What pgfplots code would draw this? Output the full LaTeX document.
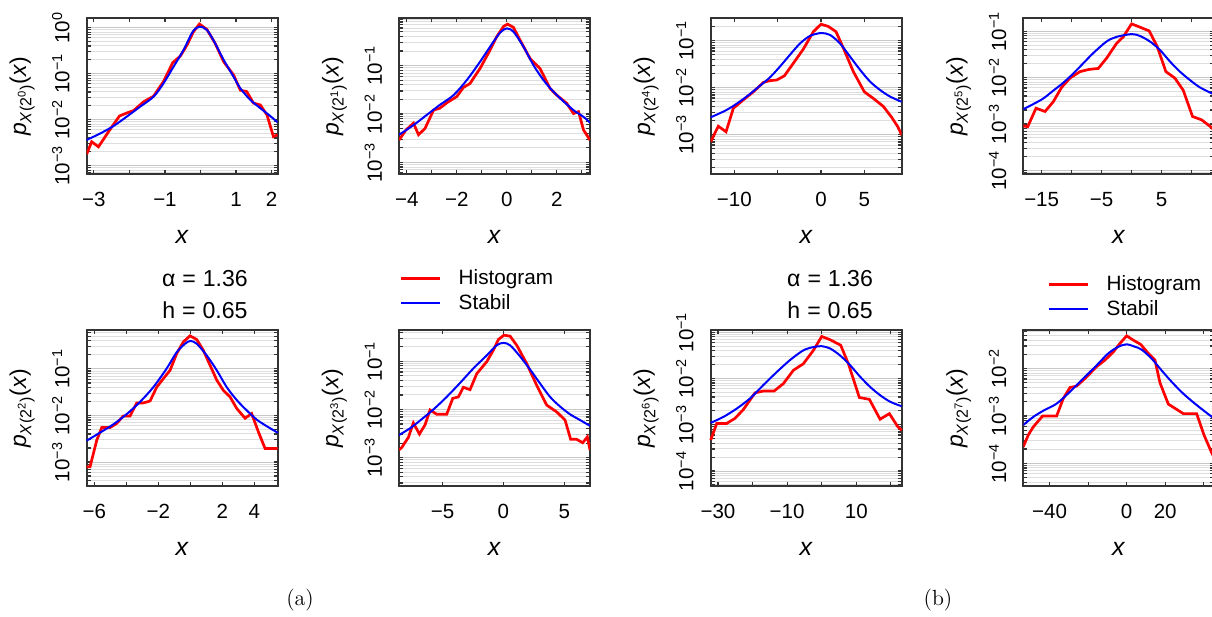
\documentclass[border=0pt]{standalone}
\usepackage{fontspec}
\newfontfamily\lsans{Liberation Sans}
\usepackage{pgfplots}
\pgfplotsset{compat=1.18}
\newcommand{\yl}[1]{\textit{p}\textsubscript{\textit{X}(2\textsuperscript{#1})}(\textit{x})}
\newcommand{\tp}[1]{10\textsuperscript{#1}}
\pgfplotsset{
   scale only axis, width=95.5bp, height=78bp,
   axis line style={draw=black!80, line width=0.85bp},
   tick style={draw=black!80, line width=0.6bp},
   major tick length=2bp, minor tick length=2bp,
   tick align=inside,
   ymajorgrids, yminorgrids,
   major grid style={draw=black!22, line width=0.5bp},
   minor grid style={draw=black!13, line width=0.5bp},
   minor ytick={2e-5,3e-5,4e-5,5e-5,6e-5,7e-5,8e-5,9e-5,2e-4,3e-4,4e-4,5e-4,6e-4,7e-4,8e-4,9e-4,2e-3,3e-3,4e-3,5e-3,6e-3,7e-3,8e-3,9e-3,2e-2,3e-2,4e-2,5e-2,6e-2,7e-2,8e-2,9e-2,0.2,0.3,0.4,0.5,0.6,0.7,0.8,0.9,2,3,4,5,6,7,8,9},
   ticklabel style={font=\lsans\fontsize{10.3}{12}\selectfont},
   xticklabel shift=5.4bp,
   yticklabel style={rotate=90, anchor=south},
   yticklabel shift=5bp,
   every axis x label/.style={at={(axis description cs:0.5,0)}, yshift=-31.2bp, anchor=center, font=\lsans\fontsize{12.5}{14}\selectfont},
   every axis y label/.style={at={(axis description cs:0,0.5)}, xshift=-22.5bp, rotate=90, anchor=south, font=\lsans\fontsize{11.5}{13}\selectfont},
   legend style={draw=none, fill=none, inner sep=0pt, outer sep=0pt, font=\lsans\fontsize{10.4}{12}\selectfont, row sep=1.5bp, column sep=7.5bp, nodes={inner sep=1bp}},
   legend cell align=left,
   myhist/.style={color=red, line width=1.35bp},
   mystab/.style={color=blue, line width=1bp, smooth},
}
\newcommand{\annfont}{\lsans\fontsize{11.6}{13}\selectfont}
\begin{document}
\begin{tikzpicture}
% ---------- P1 ----------
\begin{axis}[ymode=log, at={(43.35bp,-87.15bp)}, anchor=south west,
  xmin=-3.2, xmax=2.17, ymin=6.49e-4, ymax=1.596,
  xtick={-3,-1,1,2}, xticklabels={−3,−1,1,2}, minor xtick={-2,0},
  ytick={1e-3,1e-2,1e-1,1}, yticklabels={\tp{−3},\tp{−2},\tp{−1},\tp{0}},
  xlabel={\textit{x}}, ylabel={\yl{0}}]
\addplot[myhist] coordinates {(-3.20,0.00178)(-3.06,0.00331)(-2.87,0.00257)(-2.54,0.00617)(-2.28,0.0120)(-2.09,0.0138)(-1.88,0.0158)(-1.60,0.0245)(-1.32,0.0324)(-1.04,0.0676)(-0.78,0.174)(-0.57,0.240)(-0.38,0.417)(-0.20,0.813)(-0.03,1.20)(0.18,0.912)(0.41,0.457)(0.65,0.182)(0.93,0.0933)(1.12,0.0437)(1.30,0.0407)(1.49,0.0229)(1.68,0.0209)(1.87,0.0126)(2.05,0.00427)(2.17,0.00468)};
\addplot[mystab] coordinates {(-3.20,0.00363)(-2.82,0.00501)(-2.45,0.00724)(-2.07,0.0117)(-1.70,0.0191)(-1.32,0.0316)(-1.04,0.0617)(-0.76,0.141)(-0.48,0.324)(-0.22,0.813)(-0.03,1.05)(0.18,0.891)(0.41,0.457)(0.65,0.200)(0.93,0.0851)(1.12,0.0479)(1.40,0.0269)(1.68,0.0178)(1.96,0.0120)(2.17,0.00871)};
\end{axis}
% ---------- P2 ----------
\begin{axis}[ymode=log, at={(199.5bp,-87.15bp)}, anchor=south west,
  xmin=-4.31, xmax=3.33, ymin=5.65e-4, ymax=0.953,
  xtick={-4,-2,0,2}, xticklabels={−4,−2,0,2}, minor xtick={-3,-1,1,3},
  ytick={1e-3,1e-2,1e-1,1}, yticklabels={\tp{−3},\tp{−2},\tp{−1},\tp{0}},
  xlabel={\textit{x}}, ylabel={\yl{1}}]
\addplot[myhist] coordinates {(-4.31,0.00288)(-4.03,0.00468)(-3.73,0.00646)(-3.53,0.00372)(-3.27,0.00501)(-2.93,0.0120)(-2.67,0.0132)(-2.40,0.0170)(-2.00,0.0229)(-1.73,0.0355)(-1.47,0.0427)(-1.07,0.0871)(-0.67,0.209)(-0.40,0.398)(-0.13,0.646)(0.03,0.724)(0.27,0.617)(0.53,0.339)(0.93,0.141)(1.33,0.0871)(1.73,0.0339)(2.00,0.0245)(2.40,0.0166)(2.67,0.0102)(2.87,0.0112)(3.07,0.00468)(3.33,0.00288)};
\addplot[mystab] coordinates {(-4.31,0.00372)(-3.73,0.00589)(-3.20,0.00955)(-2.67,0.0155)(-2.13,0.0245)(-1.60,0.0501)(-1.07,0.120)(-0.67,0.245)(-0.27,0.479)(0,0.589)(0.27,0.501)(0.67,0.245)(1.07,0.102)(1.47,0.0501)(1.87,0.0288)(2.27,0.0182)(2.67,0.0120)(3.07,0.00871)(3.33,0.00661)};
\end{axis}
% ---------- P3 ----------
\begin{axis}[ymode=log, at={(355.35bp,-87.15bp)}, anchor=south west,
  xmin=-12.73, xmax=9.31, ymin=1.432e-4, ymax=0.2985,
  xtick={-10,0,5}, xticklabels={−10,0,5}, minor xtick={-5},
  ytick={1e-3,1e-2,1e-1}, yticklabels={\tp{−3},\tp{−2},\tp{−1}},
  xlabel={\textit{x}}, ylabel={\yl{4}}]
\addplot[myhist] coordinates {(-12.73,0.000708)(-11.85,0.00151)(-10.96,0.00115)(-10.12,0.00363)(-8.96,0.00550)(-7.81,0.00813)(-6.65,0.0129)(-5.88,0.0141)(-5.12,0.0145)(-4.23,0.0178)(-3.19,0.0331)(-2.04,0.0661)(-0.88,0.155)(0,0.224)(0.85,0.200)(1.73,0.155)(2.58,0.0692)(3.73,0.0219)(5.0,0.00813)(6.04,0.00589)(7.19,0.00398)(8.15,0.00234)(8.85,0.00148)(9.31,0.000977)};
\addplot[mystab] coordinates {(-12.73,0.00234)(-11.27,0.00309)(-10.12,0.00407)(-8.58,0.00646)(-7.04,0.0110)(-5.88,0.0166)(-4.73,0.0282)(-3.58,0.0501)(-2.42,0.0871)(-1.27,0.126)(0,0.145)(1.04,0.132)(2.19,0.0871)(3.35,0.0457)(4.5,0.0240)(5.65,0.0135)(6.81,0.00891)(7.96,0.00646)(9.31,0.00501)};
\end{axis}
% ---------- P4 ----------
\begin{axis}[ymode=log, at={(511.65bp,-87.15bp)}, anchor=south west,
  xmin=-18.06, xmax=13.8, ymin=8.2e-5, ymax=0.191,
  xtick={-15,-5,5}, xticklabels={−15,−5,5}, minor xtick={-10,0,10},
  ytick={1e-4,1e-3,1e-2,1e-1}, yticklabels={\tp{−4},\tp{−3},\tp{−2},\tp{−1}},
  xlabel={\textit{x}}, ylabel={\yl{5}}]
\addplot[myhist] coordinates {(-18.06,0.000912)(-17.33,0.000871)(-15.94,0.00219)(-14.44,0.00186)(-13.06,0.00302)(-11.67,0.00617)(-10.28,0.00977)(-8.61,0.0135)(-7.06,0.0151)(-5.56,0.0158)(-4.17,0.0263)(-2.5,0.0550)(-1.39,0.0759)(0,0.145)(1.39,0.123)(2.94,0.102)(4.28,0.0468)(5.72,0.0135)(7.22,0.00977)(8.61,0.00537)(10.17,0.00145)(11.67,0.00123)(13.39,0.000832)(13.8,0.0007)};
\addplot[mystab] coordinates {(-18.06,0.00209)(-16.39,0.00269)(-14.72,0.00355)(-13.06,0.00525)(-11.39,0.00776)(-9.72,0.0123)(-8.06,0.0204)(-6.39,0.0339)(-4.17,0.0603)(-2.5,0.0759)(0,0.0871)(1.39,0.0794)(3.06,0.0603)(4.72,0.0398)(6.39,0.0224)(8.06,0.0135)(9.72,0.00891)(11.39,0.00617)(13.39,0.00457)(13.8,0.0043)};
\end{axis}
% ---------- P5 ----------
\begin{axis}[ymode=log, at={(43.35bp,-243.15bp)}, anchor=south west, clip=false,
  xmin=-6.48, xmax=5.46, ymin=3.01e-4, ymax=0.674,
  xtick={-6,-2,2,4}, xticklabels={−6,−2,2,4}, minor xtick={-4,0},
  ytick={1e-3,1e-2,1e-1}, yticklabels={\tp{−3},\tp{−2},\tp{−1}},
  xlabel={\textit{x}}, ylabel={\yl{2}}]
\addplot[myhist] coordinates {(-6.48,0.000794)(-6.27,0.000794)(-5.85,0.00295)(-5.54,0.00550)(-5.02,0.00550)(-4.60,0.00676)(-4.19,0.00977)(-3.77,0.00977)(-3.35,0.0186)(-2.94,0.0186)(-2.52,0.0204)(-2.10,0.0407)(-1.69,0.0617)(-1.27,0.0933)(-0.85,0.214)(-0.44,0.380)(-0.02,0.513)(0.40,0.427)(0.81,0.251)(1.23,0.120)(1.65,0.0575)(2.06,0.0347)(2.48,0.0251)(2.90,0.0141)(3.42,0.00871)(3.83,0.0110)(4.25,0.00447)(4.67,0.00195)(5.46,0.00195)};
\addplot[mystab] coordinates {(-6.48,0.00288)(-5.65,0.00427)(-4.81,0.00646)(-3.98,0.0107)(-3.15,0.0195)(-2.31,0.0407)(-1.48,0.102)(-0.85,0.229)(-0.33,0.347)(0,0.398)(0.40,0.347)(1.02,0.195)(1.65,0.0933)(2.27,0.0407)(2.90,0.0214)(3.52,0.0129)(4.15,0.00813)(4.77,0.00589)(5.46,0.00427)};
\node[font=\annfont] at (axis description cs:0.619,1.335) {α\hspace{0.3em}=\hspace{0.3em}1.36};
\node[font=\annfont] at (axis description cs:0.619,1.13) {h\hspace{0.3em}=\hspace{0.3em}0.65};
\node[font=\rmfamily\fontsize{11}{13}\selectfont] at (axis description cs:1.117,-0.729) {(a)};
\end{axis}
% ---------- P6 ----------
\begin{axis}[ymode=log, at={(199.5bp,-243.15bp)}, anchor=south west,
  xmin=-8.58, xmax=7.12, ymin=2.55e-4, ymax=0.4375,
  xtick={-5,0,5}, xticklabels={−5,0,5},
  ytick={1e-3,1e-2,1e-1}, yticklabels={\tp{−3},\tp{−2},\tp{−1}},
  xlabel={\textit{x}}, ylabel={\yl{3}},
  legend image code/.code={\draw[#1] (0bp,0bp) -- (19.5bp,0bp);},
  legend style={at={(axis description cs:0,1)}, anchor=south west, xshift=0.5bp, yshift=8bp}]
\addplot[myhist] coordinates {(-8.58,0.00145)(-8.36,0.00162)(-7.81,0.00263)(-7.40,0.00525)(-6.90,0.00309)(-6.44,0.00479)(-6.03,0.00977)(-5.48,0.00794)(-4.66,0.00794)(-4.16,0.0170)(-3.70,0.0182)(-3.29,0.0288)(-2.74,0.0257)(-2.19,0.0550)(-1.37,0.0977)(-0.82,0.170)(-0.41,0.282)(0.05,0.347)(0.55,0.331)(1.10,0.214)(1.92,0.0891)(2.74,0.0316)(3.56,0.0123)(4.38,0.00891)(5.07,0.00603)(5.53,0.00240)(6.03,0.00240)(6.52,0.00204)(6.90,0.00269)(7.12,0.00145)};
\addplot[mystab] coordinates {(-8.58,0.00295)(-7.67,0.00407)(-6.85,0.00589)(-5.75,0.0100)(-4.66,0.0182)(-3.56,0.0355)(-2.47,0.0708)(-1.37,0.132)(-0.55,0.214)(0,0.240)(0.55,0.214)(1.37,0.126)(2.19,0.0676)(3.01,0.0347)(3.84,0.0182)(4.66,0.0115)(5.48,0.00794)(6.30,0.00603)(7.12,0.00457)};
\legend{Histogram,Stabil}
\end{axis}
% ---------- P7 ----------
\begin{axis}[ymode=log, at={(355.35bp,-243.15bp)}, anchor=south west, clip=false,
  xmin=-32.1, xmax=23.13, ymin=4.67e-5, ymax=0.1104,
  xtick={-30,-10,10}, xticklabels={−30,−10,10}, minor xtick={-20,0,20},
  ytick={1e-4,1e-3,1e-2,1e-1}, yticklabels={\tp{−4},\tp{−3},\tp{−2},\tp{−1}},
  xlabel={\textit{x}}, ylabel={\yl{6}}]
\addplot[myhist] coordinates {(-32.10,0.000468)(-30.36,0.00107)(-27.47,0.00107)(-25.06,0.00138)(-22.65,0.00214)(-19.28,0.00490)(-16.87,0.00537)(-13.78,0.00537)(-11.08,0.00776)(-8.19,0.0151)(-5.30,0.0209)(-2.41,0.0407)(0,0.0813)(2.41,0.0692)(5.49,0.0525)(7.71,0.0209)(10.89,0.00389)(13.78,0.00355)(16.87,0.00132)(19.57,0.00174)(21.98,0.000912)(23.13,0.000759)};
\addplot[mystab] coordinates {(-32.10,0.00110)(-28.43,0.00148)(-24.58,0.00224)(-20.72,0.00372)(-16.87,0.00724)(-13.01,0.0138)(-9.16,0.0251)(-5.30,0.0407)(-2.41,0.0479)(0,0.0501)(2.41,0.0447)(5.30,0.0316)(8.19,0.0195)(11.08,0.0110)(13.98,0.00661)(16.87,0.00437)(19.76,0.00316)(23.13,0.00251)};
\node[font=\annfont] at (axis description cs:0.625,1.335) {α\hspace{0.3em}=\hspace{0.3em}1.36};
\node[font=\annfont] at (axis description cs:0.625,1.13) {h\hspace{0.3em}=\hspace{0.3em}0.65};
\node[font=\rmfamily\fontsize{11}{13}\selectfont] at (axis description cs:1.19,-0.729) {(b)};
\end{axis}
% ---------- P8 ----------
\begin{axis}[ymode=log, at={(511.65bp,-243.15bp)}, anchor=south west,
  xmin=-53.63, xmax=45.5, ymin=3.28e-5, ymax=0.0641,
  xtick={-40,0,20}, xticklabels={−40,0,20}, minor xtick={-20,40},
  ytick={1e-4,1e-3,1e-2}, yticklabels={\tp{−4},\tp{−3},\tp{−2}},
  xlabel={\textit{x}}, ylabel={\yl{7}},
  legend image code/.code={\draw[#1] (0bp,0bp) -- (19.5bp,0bp);},
  legend style={at={(axis description cs:0,1)}, anchor=south west, xshift=12.35bp, yshift=5bp}]
\addplot[myhist] coordinates {(-53.63,0.000224)(-51.04,0.000398)(-48.44,0.000589)(-43.60,0.00100)(-36.33,0.00100)(-32.87,0.00234)(-29.41,0.00398)(-25.95,0.00427)(-21.63,0.00617)(-15.57,0.0110)(-11.25,0.0151)(-6.92,0.0224)(-3.46,0.0339)(0,0.0490)(3.46,0.0398)(7.27,0.0324)(11.25,0.0209)(14.71,0.0151)(17.30,0.00501)(21.63,0.00178)(29.41,0.00112)(36.33,0.00112)(40.14,0.000398)(44.29,0.000162)(45.5,0.00013)};
\addplot[mystab] coordinates {(-53.63,0.000646)(-48.44,0.000955)(-43.25,0.00129)(-36.33,0.00182)(-29.41,0.00324)(-22.49,0.00617)(-15.57,0.0117)(-9.52,0.0209)(-4.33,0.0288)(0,0.0324)(4.33,0.0288)(7.79,0.0251)(12.98,0.0162)(18.17,0.00912)(23.36,0.00525)(29.41,0.00295)(36.33,0.00170)(44.29,0.000955)(45.5,0.0009)};
\legend{Histogram,Stabil}
\end{axis}
\pgfresetboundingbox
\path[use as bounding box] (0,0) rectangle (606bp,-308.5bp);
\end{tikzpicture}
\end{document}
